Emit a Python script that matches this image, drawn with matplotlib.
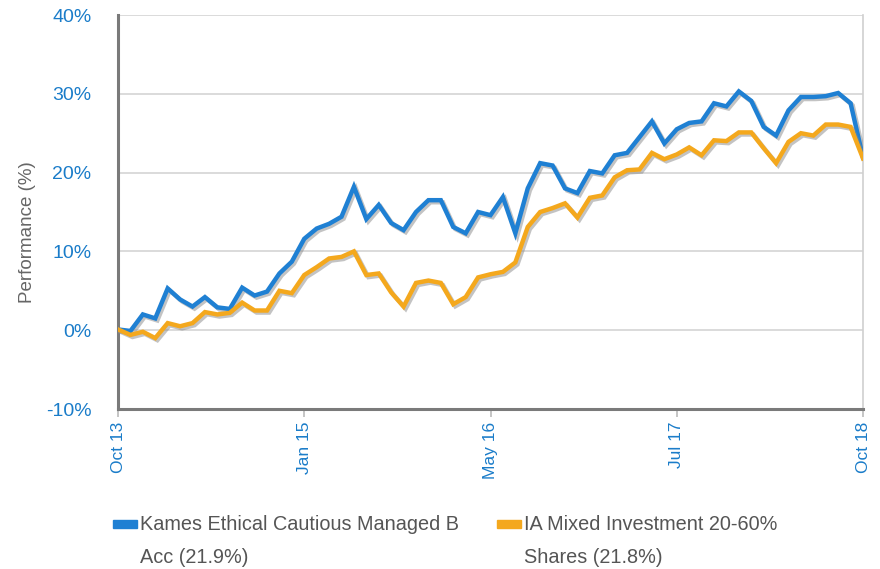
import numpy as np
import matplotlib.pyplot as plt
import matplotlib.patheffects as pe
from matplotlib.patches import Rectangle
from matplotlib.ticker import FuncFormatter

plt.rcParams['font.family'] = ['Liberation Sans', 'DejaVu Sans']

# monthly performance, Oct 13 .. Oct 18
kames = [0.1, -0.1, 2.0, 1.5, 5.3, 3.9, 3.0, 4.2, 2.9, 2.7,
         5.4, 4.4, 4.9, 7.2, 8.7, 11.6, 12.9, 13.5, 14.4, 18.2,
         14.1, 15.9, 13.6, 12.7, 15.0, 16.5, 16.5, 13.1, 12.3, 15.0,
         14.6, 16.9, 12.3, 18.0, 21.2, 20.9, 18.0, 17.4, 20.2, 19.9,
         22.2, 22.5, 24.5, 26.5, 23.7, 25.5, 26.3, 26.5, 28.8, 28.4,
         30.3, 29.1, 25.8, 24.7, 27.9, 29.6, 29.6, 29.7, 30.1, 28.8,
         21.9]
sector = [0.1, -0.6, -0.2, -1.0, 0.9, 0.5, 0.9, 2.3, 2.0, 2.2,
          3.5, 2.5, 2.5, 5.0, 4.7, 7.0, 8.0, 9.1, 9.3, 10.0,
          7.0, 7.2, 4.8, 3.0, 6.0, 6.3, 6.0, 3.3, 4.2, 6.7,
          7.1, 7.4, 8.6, 13.1, 15.0, 15.5, 16.1, 14.3, 16.8, 17.1,
          19.4, 20.3, 20.4, 22.5, 21.7, 22.3, 23.2, 22.2, 24.1, 24.0,
          25.1, 25.1, 23.1, 21.2, 23.9, 25.0, 24.7, 26.1, 26.1, 25.8,
          21.8]
tick_pos = [0, 15, 30, 45, 60]
tick_labels = ['Oct 13', 'Jan 15', 'May 16', 'Jul 17', 'Oct 18']
legend_labels = ['Kames Ethical Cautious Managed B\nAcc (21.9%)',
                 'IA Mixed Investment 20-60%\nShares (21.8%)']

blue = '#1f80d3'
orange = '#f4a81d'
tick_blue = '#1a7cc9'

fig = plt.figure(figsize=(8.8, 5.69), dpi=100)
ax = fig.add_axes([118/880, 1-409/569, 745/880, 394/569])

x = np.arange(len(kames))
shadow = [pe.SimpleLineShadow(offset=(1.5, -1.5), shadow_color='#888888', alpha=0.5), pe.Normal()]
ax.plot(x, kames, color=blue, lw=3.2, solid_joinstyle='miter', path_effects=shadow, zorder=3)
ax.plot(x, sector, color=orange, lw=3.2, solid_joinstyle='miter', path_effects=shadow, zorder=3)

ax.set_xlim(0, 60)
ax.set_ylim(-10, 40)
ax.set_yticks([-10, 0, 10, 20, 30, 40])
ax.yaxis.set_major_formatter(FuncFormatter(lambda v, p: '%d%%' % v))
ax.set_xticks(tick_pos)
ax.set_xticklabels(tick_labels, rotation=90)
ax.grid(axis='y', color='#d4d4d4', lw=1.2)
ax.set_axisbelow(True)

for s in ['left', 'bottom']:
    ax.spines[s].set_color('#7a7a7a')
    ax.spines[s].set_linewidth(2.2)
ax.spines['top'].set_visible(False)
ax.spines['right'].set_color('#cfcfcf')
ax.spines['right'].set_linewidth(1.2)

ax.tick_params(axis='y', length=0, pad=19, labelsize=14, labelcolor=tick_blue)
ax.tick_params(axis='x', length=6, width=1.2, color='#bbbbbb', pad=3, labelsize=12.5, labelcolor=tick_blue)
ax.set_ylabel('Performance (%)', fontsize=13.5, color='#666666')
ax.yaxis.set_label_coords(-0.11, 0.45)

# legend below the chart
for px, col, lab in [(113, blue, legend_labels[0]), (497, orange, legend_labels[1])]:
    fig.patches.append(Rectangle((px/880, 1-528/569), 24/880, 8/569, transform=fig.transFigure,
                                 color=col, figure=fig))
    fig.text((px+27)/880, 1-515/569, lab, fontsize=14.3, color='#555555', va='top',
             linespacing=1.95)

fig.savefig('out.png', dpi=100)
